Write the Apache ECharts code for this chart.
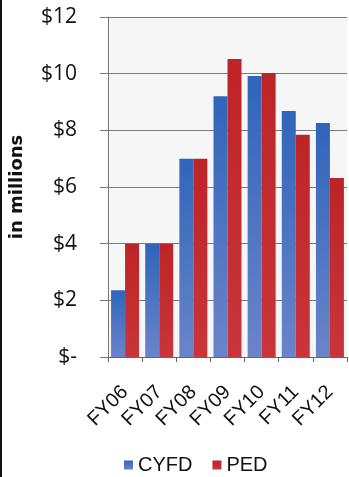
<!DOCTYPE html>
<html>
<head>
<meta charset="utf-8">
<script src="https://cdn.jsdelivr.net/npm/echarts@6/dist/echarts.min.js"></script>
<style>
  html, body { margin: 0; padding: 0; background: #fff; }
  #chart { width: 349px; height: 477px; position: relative; }
  #edge { position: absolute; left: 0; top: 0; width: 2px; height: 477px; background: #111; }
</style>
</head>
<body>
<div id="chart"></div>
<div id="edge"></div>
<script>
// Funding by fiscal year, in millions of dollars
const years = ['FY06', 'FY07', 'FY08', 'FY09', 'FY10', 'FY11', 'FY12'];
const cyfd = [2.36, 4.0, 7.0, 9.2, 9.92, 8.68, 8.26];
const ped = [4.0, 4.0, 7.0, 10.52, 10.02, 7.84, 6.32];
const yTicks = [0, 2, 4, 6, 8, 10, 12];

const chart = echarts.init(document.getElementById('chart'), null, { renderer: 'canvas' });

function fmtMoney(v) {
  return v === 0 ? '$-' : '$' + v;
}

chart.setOption({
  animation: false,
  backgroundColor: '#ffffff',
  grid: {
    left: 108, right: 2, top: 17, bottom: 120,
    show: true, backgroundColor: '#f6f6f6', borderWidth: 0
  },
  legend: {
    top: 450, left: 119,
    itemWidth: 9, itemHeight: 9, itemGap: 20,
    icon: 'rect',
    textStyle: { fontFamily: 'Liberation Sans', fontSize: 20, color: '#111' },
    data: ['CYFD', 'PED']
  },
  xAxis: {
    type: 'category',
    data: years,
    axisLine: { lineStyle: { color: '#666', width: 1 } },
    axisTick: { show: true, length: 5, lineStyle: { color: '#666' } },
    axisLabel: {
      rotate: 45, margin: 32, interval: 0,
      fontFamily: 'Liberation Sans', fontSize: 20, color: '#111'
    }
  },
  yAxis: {
    type: 'value',
    min: yTicks[0], max: yTicks[yTicks.length - 1], interval: 2,
    name: 'in millions',
    nameLocation: 'middle',
    nameGap: 82,
    nameRotate: 90,
    nameTextStyle: { fontFamily: 'DejaVu Sans', fontWeight: 'bold', fontSize: 18, color: '#111' },
    axisLine: { show: true, lineStyle: { color: '#777', width: 1 } },
    axisTick: { show: true, length: 8, inside: false, lineStyle: { color: '#777' } },
    splitLine: { lineStyle: { color: '#7a7a7a', width: 1 } },
    axisLabel: {
      margin: 31,
      fontFamily: 'Open Sans', fontSize: 21, color: '#111',
      formatter: fmtMoney
    }
  },
  series: [
    {
      name: 'CYFD', type: 'bar', data: cyfd,
      barGap: '0%', barCategoryGap: '18%',
      itemStyle: {
        color: new echarts.graphic.LinearGradient(0, 0, 0, 1, [
          { offset: 0, color: '#3065ba' },
          { offset: 1, color: '#6a84ca' }
        ])
      }
    },
    {
      name: 'PED', type: 'bar', data: ped,
      itemStyle: {
        color: new echarts.graphic.LinearGradient(0, 0, 0, 1, [
          { offset: 0, color: '#bd2427' },
          { offset: 1, color: '#c93539' }
        ])
      }
    }
  ]
});
</script>
</body>
</html>
